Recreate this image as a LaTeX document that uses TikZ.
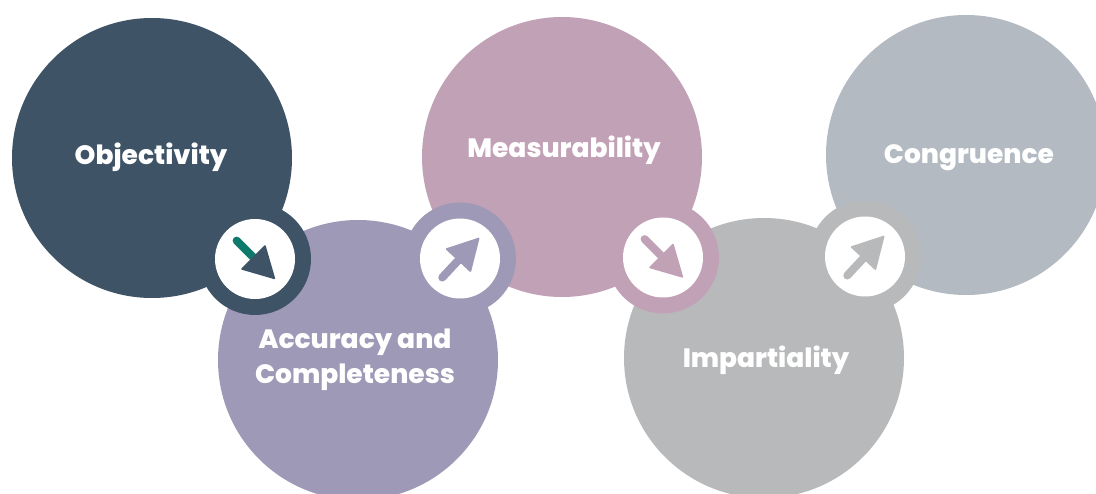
\documentclass[tikz,border=0pt]{standalone}
\usepackage{fontspec}
\newfontfamily\labelfont{Poppins}[BoldFont={* ExtraBold}]
\usetikzlibrary{calc}

\definecolor{cSlate}{HTML}{3F5366}
\definecolor{cLavender}{HTML}{9E99B6}
\definecolor{cMauve}{HTML}{C1A1B5}
\definecolor{cGrey}{HTML}{B8B9BB}
\definecolor{cBlueGrey}{HTML}{B3BAC2}
\definecolor{cTeal}{HTML}{0F7A6B}

\begin{document}
\begin{tikzpicture}[x=1pt,y=1pt,
  disc/.style={circle, minimum size=280pt, inner sep=0pt, fill=#1},
  badge/.style={circle, minimum size=112pt, inner sep=0pt, fill=#1},
  hole/.style={circle, minimum size=80pt, inner sep=0pt, fill=white},
  lbl/.style={text=white, font=\labelfont\bfseries\fontsize{26.5}{35}\selectfont, align=center, anchor=base, inner sep=0pt},
  shaft/.style={line width=8pt, line cap=round, draw=#1},
  head/.style={fill=#1, rounded corners=1.2pt},
]
\useasboundingbox (0,0) rectangle (1096,-494);
\clip (0,0) rectangle (1096,-494);

% the five discs
\node[disc=cSlate]    (c1) at (152,-158) {};
\node[disc=cLavender] (c2) at (358,-360) {};
\node[disc=cMauve]    (c3) at (562,-157) {};
\node[disc=cGrey]     (c4) at (764,-358) {};
\node[disc=cBlueGrey] (c5) at (966,-155) {};

% link badges between neighbouring discs
\node[badge=cSlate]    (b1) at ($(c1)!0.5!(c2)$) {};
\node[badge=cLavender] (b2) at ($(c2)!0.5!(c3)$) {};
\node[badge=cMauve]    (b3) at ($(c3)!0.5!(c4)$) {};
\node[badge=cGrey]     (b4) at ($(c4)!0.5!(c5)$) {};
\node[hole] (h1) at (b1) {};
\node[hole] (h2) at (b2) {};
\node[hole] (h3) at (b3) {};
\node[hole] (h4) at (b4) {};

% arrows inside the badges
\begin{scope}[shift={(h1.center)}, rotate=-45]
  \draw[shaft=cTeal] (-26,0) -- (-2,0);
  \fill[head=cSlate] (29,0) -- (-3,17.6) -- (-3,-17.6) -- cycle;
\end{scope}
\begin{scope}[shift={(h2.center)}, rotate=47]
  \draw[shaft=cLavender] (-26,0) -- (-2,0);
  \fill[head=cLavender] (29,0) -- (-3,17.6) -- (-3,-17.6) -- cycle;
\end{scope}
\begin{scope}[shift={(h3.center)}, rotate=-45]
  \draw[shaft=cMauve] (-26,0) -- (-2,0);
  \fill[head=cMauve] (29,0) -- (-3,17.6) -- (-3,-17.6) -- cycle;
\end{scope}
\begin{scope}[shift={(h4.center)}, rotate=47]
  \draw[shaft=cGrey] (-26,0) -- (-2,0);
  \fill[head=cGrey] (29,0) -- (-3,17.6) -- (-3,-17.6) -- cycle;
\end{scope}

% labels (base anchor sits on the last line's baseline)
\node[lbl] (t1) at (151,-165) {Objectivity};
\node[lbl] (t2) at (355,-384) {Accuracy and\\Completeness};
\node[lbl] (t3) at (564,-158) {Measurability};
\node[lbl] (t4) at (766,-368) {Impartiality};
\node[lbl] (t5) at (969,-164) {Congruence};
\end{tikzpicture}
\end{document}
